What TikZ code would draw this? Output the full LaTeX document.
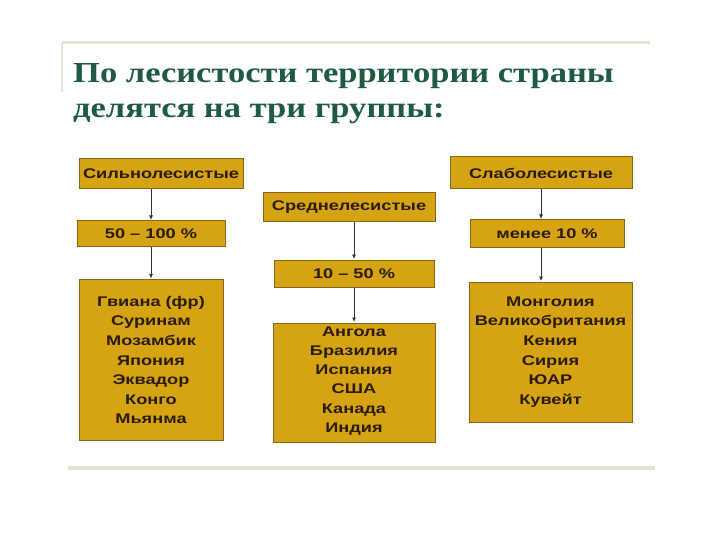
\documentclass[tikz,border=0pt]{standalone}
\usepackage{fontspec}
\setmainfont{Liberation Serif}
\newfontfamily\titlefont[FakeStretch=1.19]{Liberation Serif}
\newfontfamily\boxfont[FakeStretch=1.3]{Liberation Sans}
\usetikzlibrary{arrows.meta}
\definecolor{forest}{HTML}{1E5B42}
\definecolor{goldfill}{HTML}{D6A312}
\definecolor{goldedge}{HTML}{86671A}
\definecolor{rulegray}{HTML}{E6E3D3}
\definecolor{boxtext}{HTML}{2A1C06}

\begin{document}
\begin{tikzpicture}[x=1pt,y=-1pt,>=Latex,
 every node/.style={align=center,inner sep=0pt},
 head/.style={text=forest,font={\titlefont\bfseries\fontsize{29}{35}\selectfont},anchor=base west},
 cat/.style={draw=goldedge,line width=1pt,fill=goldfill,text=boxtext,
  font={\boxfont\bfseries\fontsize{14}{19.6}\selectfont}},
 link/.style={->,draw=black!80,line width=0.8pt,shorten >=0.5pt,
  >={Latex[length=4.5pt,width=4pt]}}]
\useasboundingbox (0,0) rectangle (720,540);
\fill[white] (0,0) rectangle (720,540);
% frame rules
\draw[rulegray,line width=3pt] (62,43) -- (650,43);
\draw[rulegray,line width=1.5pt] (62,43) -- (62,92);
\draw[rulegray,line width=4pt] (68,468) -- (655,468);
% title
\node[head] (title1) at (73,83) {По лесистости территории страны};
\node[head] (title2) at (73,118) {делятся на три группы:};
% groups
\node[cat,minimum width=164pt,minimum height=30pt] (high) at (161,174) {Сильнолесистые};
\node[cat,minimum width=172pt,minimum height=29pt] (mid) at (349,207.5) {Среднелесистые};
\node[cat,minimum width=182pt,minimum height=32pt] (low) at (541,173) {Слаболесистые};
% shares
\node[cat,minimum width=148pt,minimum height=25pt] (highpct) at (151,233.5) {50 – 100 \%};
\node[cat,minimum width=160pt,minimum height=27pt] (midpct) at (354,273.5) {10 – 50 \%};
\node[cat,minimum width=154pt,minimum height=27pt] (lowpct) at (547,233.5) {менее 10 \%};
% countries
\node[cat,minimum width=144pt,minimum height=161pt] (highlist) at (151,360)
 {Гвиана (фр)\\Суринам\\Мозамбик\\Япония\\Эквадор\\Конго\\Мьянма};
\node[cat,minimum width=162pt,minimum height=119pt,text depth=6pt,
 font={\boxfont\bfseries\fontsize{14}{19.2}\selectfont}] (midlist) at (354,382.5)
 {Ангола\\Бразилия\\Испания\\США\\Канада\\Индия};
\node[cat,minimum width=163pt,minimum height=140pt] (lowlist) at (550.5,352)
 {Монголия\\Великобритания\\Кения\\Сирия\\ЮАР\\Кувейт};
% arrows
\draw[link] (high.south -| highpct.north) -- (highpct.north);
\draw[link] (highpct.south -| highlist.north) -- (highlist.north);
\draw[link] (mid.south -| midpct.north) -- (midpct.north);
\draw[link] (midpct.south -| midlist.north) -- (midlist.north);
\draw[link] (low.south) -- (low.south |- lowpct.north);
\draw[link] (lowpct.south -| low.south) -- (lowlist.north -| low.south);
\end{tikzpicture}
\end{document}
